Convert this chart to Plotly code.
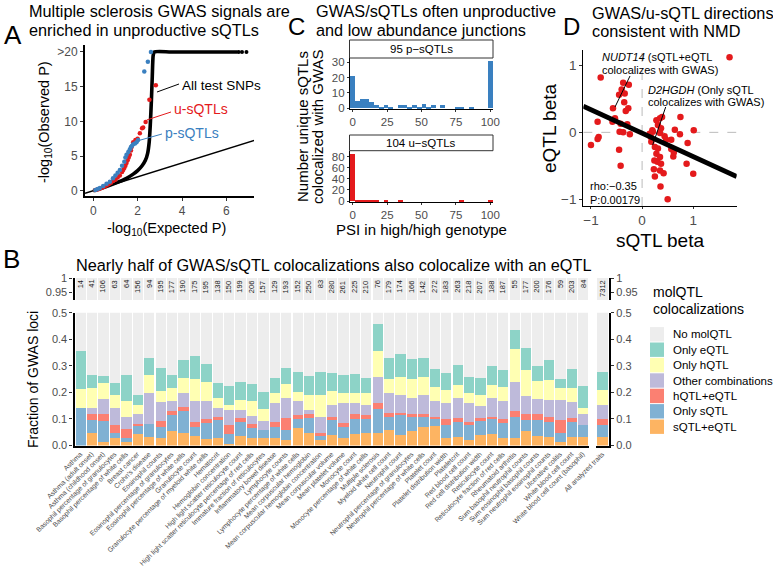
import plotly.graph_objects as go
import numpy as np

W, H = 773, 569
FONT = "Liberation Sans"
GREY = "#4d4d4d"
RED = "#e41a1c"
BLUE = "#3a80c0"

def px(x):
    return x / W

def py(y):
    return 1 - y / H

# ---------------- Panel A data (QQ plot) ----------------
a_diag_x = [-0.37, 7.3]
a_diag_y = [-0.37, 7.3]
a_all_x = [0, 0.5, 1.0, 1.5, 1.8, 2.0, 2.2, 2.35, 2.45, 2.52, 2.57, 2.62, 2.66, 2.7, 2.75, 3.5, 5.0, 6.5]
a_all_y = [0, 0.5, 1.1, 1.8, 2.4, 2.9, 3.6, 4.4, 5.4, 7.0, 9.5, 13, 16.5, 19.5, 20, 20, 20, 20]
a_top_x = [6.55, 6.7, 6.9]
a_top_y = [20, 20, 20]
a_u_x = [0.1, 0.2, 0.3, 0.4, 0.5, 0.6, 0.7, 0.8, 0.9, 1.0, 1.1, 1.2, 1.3, 1.35, 1.4, 1.45, 1.5,
         1.55, 1.6, 1.65, 1.7, 1.73, 1.8, 1.9, 2.0, 2.1, 2.2, 2.25, 2.36, 2.53, 2.82]
a_u_y = [0.1, 0.2, 0.3, 0.45, 0.6, 0.75, 0.95, 1.15, 1.4, 1.6, 1.9, 2.2, 2.7, 3.0, 3.3, 3.6, 4.0,
         4.4, 4.8, 5.2, 5.8, 6.3, 7.0, 7.3, 7.5, 8.3, 9.0, 9.1, 9.9, 13.1, 15.2]
a_p_x = [0.1, 0.2, 0.3, 0.45, 0.6, 0.75, 0.89, 1.0, 1.1, 1.2, 1.3, 1.4, 1.45, 1.5, 1.58, 1.65,
         1.7, 1.75, 1.8, 1.88, 1.95, 2.02, 2.3, 2.46, 2.6]
a_p_y = [0.1, 0.25, 0.4, 0.7, 1.0, 1.3, 1.8, 2.2, 2.6, 3.0, 3.6, 4.2, 4.8, 5.2, 5.6, 6.0,
         6.3, 6.5, 6.7, 6.8, 7.0, 7.3, 17.2, 18.6, 20.0]
a_yticks = [0, 5, 10, 15, 20]
a_yticktext = ["0", "5", "10", "15", ">20"]

# ---------------- Panel C data (histograms, 30 bins over 0-100) ----------------
c_bins = np.linspace(0, 100, 30)
c_p_counts = [21, 5, 6, 6, 4, 2, 1, 2, 1, 0, 2, 2, 1, 2, 1, 3, 1, 2, 0, 2, 0, 0, 1, 1, 0, 1, 0, 0, 0, 31]
c_u_counts = [86, 3, 2, 2, 1, 1, 0, 1, 0, 0, 2, 0, 0, 0, 0, 0, 0, 0, 0, 0, 0, 0, 0, 1, 0, 0, 0, 0, 0, 1]

# ---------------- Panel D data (scatter) ----------------
d_x = [1.71, -0.81, -0.37, -0.26, -0.40, -0.34, -0.45, -0.35, -0.27, -0.32, -0.57, -0.53, -0.58, -0.87,
       -0.42, -0.29, -0.44, -0.37, -0.24, -0.85, -0.87, -1.00, -0.45, -0.42,
       0.21, 0.17, 0.18, 0.28, 0.35, 0.39, 0.31, 0.37, 0.35, 0.44, 0.47, 0.57, 0.64, 0.75, 0.74, 1.01,
       0.89, 0.57, 0.61, 0.62, 0.25, 0.28, 0.24, 0.30, 0.35, 0.37, 0.35, 0.42, 0.23, 0.25, 0.36, 0.87,
       1.00, 0.31, 0.50, 0.20, 0.15]
d_y = [1.12, 0.82, 0.74, 0.71, 0.64, 0.58, 0.56, 0.45, 0.36, 0.32, 0.36, 0.21, 0.16, 0.16,
       0.13, 0.12, 0.01, 0.00, -0.03, -0.07, -0.10, -0.19, -0.26, -0.50,
       0.01, -0.07, -0.14, 0.18, 0.21, 0.23, 0.11, 0.06, -0.01, -0.06, -0.11, -0.11, 0.04, 0.23, -0.03, 0.03,
       -0.16, -0.25, -0.36, -0.30, -0.22, -0.32, -0.42, -0.44, -0.37, -0.47, -0.57, -0.61, -0.55, -0.66,
       -0.81, -0.47, -0.62, -0.24, -1.00, 0.03, -0.02]
d_fit_x = [-1.15, 1.85]
d_fit_y = [0.39, -0.66]

# ---------------- Panel B data (stacked fractions) ----------------
traits = ["Asthma", "Asthma (adult onset)", "Asthma (childhood onset)",
          "Basophil percentage of granulocytes", "Basophil percentage of white cells", "Breast cancer",
          "Crohn's disease", "Eosinophil counts", "Eosinophil percentage of granulocytes",
          "Eosinophil percentage of white cells", "Granulocyte count",
          "Granulocyte percentage of myeloid white cells", "Hematocrit", "Hemoglobin concentration",
          "High light scatter reticulocyte count", "High light scatter reticulocyte percentage of red cells",
          "Immature fraction of reticulocytes", "Inflammatory bowel disease", "Lymphocyte counts",
          "Lymphocyte percentage of white cells", "Mean corpuscular hemoglobin",
          "Mean corpuscular hemoglobin concentration", "Mean corpuscular volume", "Mean platelet volume",
          "Monocyte count", "Monocyte percentage of white cells", "Multiple sclerosis",
          "Myeloid white cell count", "Neutrophil count", "Neutrophil percentage of granulocytes",
          "Neutrophil percentage of white cells", "Platelet count", "Platelet distribution width",
          "Plateletcrit", "Red blood cell count", "Red cell distribution width", "Reticulocyte count",
          "Reticulocyte fraction of red cells", "Rheumatoid arthritis", "Sum basophil neutrophil counts",
          "Sum eosinophil basophil counts", "Sum neutrophil eosinophil counts", "Ulcerative colitis",
          "White blood cell count", "White blood cell count (basophil)"]
trait_n = [14, 41, 106, 63, 64, 156, 94, 195, 177, 190, 175, 195, 138, 150, 199, 206, 157, 129, 193,
           152, 250, 83, 280, 261, 225, 210, 76, 179, 174, 166, 142, 272, 183, 263, 218, 207, 188, 187,
           55, 177, 200, 176, 59, 203, 84]
sqtl_eqtl = [0, .047, .016, .029, .016, .044, .032, .031, .055, .050, .038, .025, .028, .006, .038,
             .029, .029, .029, .023, .067, .050, .023, .042, .029, .045, .050, .050, .060, .042, .054,
             .070, .075, .030, .035, .020, .040, .045, .030, .030, .054, .038, .032, .015, .034, .034]
only_sqtl = [.141, .050, .079, .018, .015, .033, .051, .038, .062, .080, .034, .060, .069, .038, .050,
             .037, .031, .043, .036, .034, .055, .015, .055, .041, .055, .050, .090, .050, .073, .056,
             .040, .025, .050, .055, .060, .055, .055, .055, .080, .045, .061, .057, .033, .055, .046]
hqtl_eqtl = [0, .023, .025, .031, .031, .004, 0, .023, .013, .015, .019, .016, .013, .034, .015,
             .015, 0, .019, .046, .016, .015, .010, .013, .015, .020, .015, .020, .015, .010, .010,
             .010, .010, .020, .015, .010, .010, .010, .015, .020, .019, .019, .019, .051, .015, 0]
other_comb = [0, .023, .057, .063, .045, .039, .117, .072, .038, .055, .077, .067, .033, .055, .030,
              .033, .035, .071, .074, .053, .015, .059, .042, .075, .040, .040, .100, .075, .065, .060,
              .070, .060, .060, .075, .070, .045, .070, .070, .110, .068, .057, .063, .072, .061, .038]
only_hqtl = [.071, .075, .059, .049, .063, .032, .065, .044, .050, .056, .082, .072, .037, .019, .041,
             .054, .044, .038, .052, .032, .055, .086, .056, .040, .040, .045, .096, .050, .070, .070,
             .070, .050, .050, .050, .040, .040, .050, .050, .124, .101, .069, .078, .048, .054, .025]
only_eqtl = [.145, .050, .027, .047, .095, .038, .065, .085, .047, .066, .087, .067, .057, .073, .066,
             .063, .063, .055, .063, .074, .072, .083, .066, .065, .070, .055, .104, .080, .085, .076,
             .070, .070, .065, .075, .060, .065, .070, .065, .071, .080, .056, .074, .034, .072, .082]
all_label = "All analyzed traits"
all_n = [7312]
all_vals = [.034, .046, .021, .051, .057, .069]  # sQTL+eQTL, Only sQTL, hQTL+eQTL, Other, Only hQTL, Only eQTL

cat_names = ["sQTL+eQTL", "Only sQTL", "hQTL+eQTL", "Other combinations", "Only hQTL", "Only eQTL", "No molQTL"]
cat_colors = ["#fdb462", "#80b1d3", "#fb8072", "#bebada", "#ffffb3", "#8dd3c7", "#ededed"]
legend_order = ["No molQTL", "Only eQTL", "Only hQTL", "Other combinations", "hQTL+eQTL", "Only sQTL", "sQTL+eQTL"]

series = [sqtl_eqtl, only_sqtl, hqtl_eqtl, other_comb, only_hqtl, only_eqtl]
no_mol = list(1 - np.sum(np.array(series), axis=0))
series_all = series + [no_mol]
all_series = [[v] for v in all_vals] + [[1 - sum(all_vals)]]

fig = go.Figure()

# ---- Panel A traces
fig.add_trace(go.Scatter(x=a_diag_x, y=a_diag_y, mode="lines", line=dict(color="black", width=1.6),
                         xaxis="x", yaxis="y", hoverinfo="skip"))
fig.add_trace(go.Scatter(x=a_all_x, y=a_all_y, mode="lines", line=dict(color="black", width=3.6, shape="spline", smoothing=0.6),
                         xaxis="x", yaxis="y"))
fig.add_trace(go.Scatter(x=a_top_x, y=a_top_y, mode="markers", marker=dict(color="black", size=4),
                         xaxis="x", yaxis="y"))
fig.add_trace(go.Scatter(x=a_u_x, y=a_u_y, mode="markers", marker=dict(color=RED, size=4.5),
                         xaxis="x", yaxis="y"))
fig.add_trace(go.Scatter(x=a_p_x, y=a_p_y, mode="markers", marker=dict(color=BLUE, size=4.5),
                         xaxis="x", yaxis="y"))

# ---- Panel C traces
bw = 100 / 29
fig.add_trace(go.Bar(x=c_bins, y=c_p_counts, width=bw, marker=dict(color=BLUE, line=dict(width=0)),
                     xaxis="x2", yaxis="y2"))
fig.add_trace(go.Bar(x=c_bins, y=c_u_counts, width=bw, marker=dict(color=RED, line=dict(width=0)),
                     xaxis="x3", yaxis="y3"))

# ---- Panel D traces
fig.add_trace(go.Scatter(x=d_x, y=d_y, mode="markers", marker=dict(color=RED, size=6.5),
                         xaxis="x4", yaxis="y4"))
fig.add_trace(go.Scatter(x=d_fit_x, y=d_fit_y, mode="lines", line=dict(color="black", width=5),
                         xaxis="x4", yaxis="y4"))

# ---- Panel B traces
for ax, ay in (("x5", "y5"), ("x6", "y6")):
    for name, col, vals in zip(cat_names, cat_colors, series_all):
        fig.add_trace(go.Bar(x=traits, y=vals, name=name, width=0.9,
                             marker=dict(color=col, line=dict(width=0)), xaxis=ax, yaxis=ay))
for ax, ay in (("x7", "y7"), ("x8", "y8")):
    for name, col, vals in zip(cat_names, cat_colors, all_series):
        fig.add_trace(go.Bar(x=[all_label], y=vals, name=name, width=0.8,
                             marker=dict(color=col, line=dict(width=0)), xaxis=ax, yaxis=ay))

def tf(size):
    return dict(family=FONT, size=size, color=GREY)

def axis_common(**kw):
    d = dict(showgrid=False, zeroline=False, showline=True, linecolor="black", linewidth=1.2,
             ticks="outside", ticklen=3, tickcolor="#333333", tickfont=tf(11), automargin=False)
    d.update(kw)
    return d

layout = dict(
    width=W, height=H, margin=dict(l=0, r=0, t=0, b=0, pad=0, autoexpand=False), showlegend=False,
    paper_bgcolor="white", plot_bgcolor="white", barmode="stack", bargap=0,
    font=dict(family=FONT, color="black"),
    # A
    xaxis=axis_common(domain=[px(85), px(254)], range=[-0.37, 7.24], tickvals=[0, 2, 4, 6],
                      anchor="y", linewidth=2, tickfont=tf(12)),
    yaxis=axis_common(domain=[py(196), py(45)], range=[-0.75, 21.0], tickvals=a_yticks,
                      ticktext=a_yticktext, anchor="x", linewidth=2, tickfont=tf(12)),
    # C top
    xaxis2=axis_common(domain=[px(350), px(493)], range=[-2, 102], tickvals=[0, 25, 50, 75, 100],
                       anchor="y2", tickfont=tf(11.5), ticklen=2),
    yaxis2=axis_common(domain=[py(109), py(58)], range=[-0.46, 32.8], tickvals=[0, 10, 20, 30], anchor="x2",
                       tickfont=tf(11.5), ticklen=2),
    # C bottom
    xaxis3=axis_common(domain=[px(350), px(493)], range=[-2, 102], tickvals=[0, 25, 50, 75, 100],
                       anchor="y3", tickfont=tf(11.5), ticklen=2),
    yaxis3=axis_common(domain=[py(202), py(150.7)], range=[-1.8, 90.8], tickvals=[0, 20, 40, 60, 80],
                       anchor="x3", tickfont=tf(11.5), ticklen=2),
    # D
    xaxis4=axis_common(domain=[px(583.3), px(736.7)], range=[-1.15, 1.85], tickvals=[-1, 0, 1],
                       ticktext=["\u22121", "0", "1"], anchor="y4", tickfont=tf(13.5), ticklen=2),
    yaxis4=axis_common(domain=[py(206), py(50)], range=[-1.1, 1.23], tickvals=[-1, 0, 1],
                       ticktext=["\u22121", "0", "1"], anchor="x4", tickfont=tf(13.5)),
    # B main
    xaxis5=dict(domain=[px(74.5), px(588.5)], range=[-0.5, 44.5], type="category", anchor="y5",
                showline=True, linecolor="black", linewidth=2.2, ticks="", tickangle=-45, automargin=False,
                tickvals=traits, tickfont=tf(6.8), showgrid=False),
    yaxis5=axis_common(domain=[py(445.5), py(312.7)], range=[0, 0.5],
                       tickvals=[0, 0.1, 0.2, 0.3, 0.4, 0.5],
                       ticktext=["0.0", "0.1", "0.2", "0.3", "0.4", "0.5"], anchor="x5", linewidth=2.2),
    xaxis6=dict(domain=[px(74.5), px(588.5)], range=[-0.5, 44.5], type="category", anchor="y6",
                showline=False, showticklabels=False, ticks="", showgrid=False, automargin=False),
    yaxis6=axis_common(domain=[py(300), py(278)], range=[0.9225, 1.0], tickvals=[0.95, 1],
                       ticktext=["0.95", "1"], anchor="x6", linewidth=2.2),
    xaxis7=dict(domain=[px(595.5), px(609)], range=[-0.5, 0.5], type="category", anchor="y7",
                showline=True, linecolor="black", linewidth=2.2, ticks="", tickangle=-45, automargin=False,
                tickfont=tf(6.8), showgrid=False),
    yaxis7=axis_common(domain=[py(445.5), py(312.7)], range=[0, 0.5], side="right",
                       tickvals=[0, 0.1, 0.2, 0.3, 0.4, 0.5],
                       ticktext=["0.0", "0.1", "0.2", "0.3", "0.4", "0.5"], anchor="x7", linewidth=2.2),
    xaxis8=dict(domain=[px(595.5), px(609)], range=[-0.5, 0.5], type="category", anchor="y8",
                showline=False, showticklabels=False, ticks="", showgrid=False, automargin=False),
    yaxis8=axis_common(domain=[py(300), py(278)], range=[0.9225, 1.0], tickvals=[0.95, 1], side="right",
                       ticktext=["0.95", "1"], anchor="x8", linewidth=2.2),
)
fig.update_layout(**layout)

anns = []
def ann(x, y, text, size, color="black", xanchor="left", yanchor="middle", angle=0, **kw):
    d = dict(x=px(x), y=py(y), xref="paper", yref="paper", text=text, showarrow=False,
             font=dict(family=FONT, size=size, color=color), xanchor=xanchor, yanchor=yanchor,
             textangle=angle)
    d.update(kw)
    anns.append(d)

TITLE = 16.3
# Panel letters
ann(2, 35, "A", 26)
ann(286, 27, "C", 24)
ann(561, 27, "D", 24)
ann(1, 259, "B", 26)

# Titles
ann(27, 11, "Multiple sclerosis GWAS signals are", TITLE)
ann(27, 30, "enriched in unproductive sQTLs", TITLE)
ann(314, 11, "GWAS/sQTLs often unproductive", TITLE)
ann(314, 30, "and low abundance junctions", TITLE)
ann(590, 13, "GWAS/u-sQTL directions", TITLE)
ann(590, 31, "consistent with NMD", TITLE)
ann(333, 265, "Nearly half of GWAS/sQTL colocalizations also colocalize with an eQTL", TITLE, xanchor="center")

# Panel A labels
ann(45, 122, "-log<sub>10</sub>(Observed P)", 14.5, xanchor="center", angle=-90)
ann(166, 229, "-log<sub>10</sub>(Expected P)", 14.5, xanchor="center")
ann(180, 85, "All test SNPs", 13.5)
ann(172, 109, "u-sQTLs", 14, color=RED)
ann(163, 133, "p-sQTLs", 14, color=BLUE)

# Panel C labels
ann(421, 49, "95 p\u2212sQTLs", 11.5, xanchor="center")
ann(421, 143, "104 u\u2212sQTLs", 11.5, xanchor="center")
ann(421, 230, "PSI in high/high genotype", 15, xanchor="center")
ann(302, 127, "Number unique sQTLs", 15, xanchor="center", angle=-90)
ann(317, 127, "colocalized with GWAS", 15, xanchor="center", angle=-90)

# Panel D labels
ann(550, 128, "eQTL beta", 19, xanchor="center", angle=-90)
ann(660, 241, "sQTL beta", 19, xanchor="center")
ann(600, 57, "<i>NUDT14</i> (sQTL+eQTL", 11)
ann(600, 70, "colocalizes with GWAS)", 11)
ann(646, 90, "<i>D2HGDH</i> (Only sQTL", 11)
ann(646, 102, "colocalizes with GWAS)", 11)
ann(588, 186, "rho:\u22120.35", 11)
ann(588, 200, "P:0.00179", 11)

# Panel B labels
ann(33, 380, "Fraction of GWAS loci", 14, xanchor="center", angle=-90)
ann(651, 292, "molQTL", 14)
ann(651, 309, "colocalizations", 14)

for t, n in zip(traits, trait_n):
    anns.append(dict(x=t, y=0.9995, xref="x6", yref="y6", text=str(n), showarrow=False, textangle=-90,
                     font=dict(family=FONT, size=7.5, color="#1a1a1a"), xanchor="center", yanchor="top"))
anns.append(dict(x=all_label, y=0.9995, xref="x8", yref="y8", text=str(all_n[0]), showarrow=False,
                 textangle=-90, font=dict(family=FONT, size=7.5, color="#1a1a1a"),
                 xanchor="center", yanchor="top"))

shapes = []
# legend
leg_y0 = 334.3
for i, name in enumerate(legend_order):
    col = cat_colors[cat_names.index(name)]
    yc = leg_y0 + i * 15.4
    shapes.append(dict(type="rect", xref="paper", yref="paper", x0=px(650), x1=px(664),
                       y0=py(yc + 7.2), y1=py(yc - 7.2), fillcolor=col, line=dict(width=0)))
    ann(671, yc, name, 11.5)

def seg(x0, y0, x1, y1, color="black", width=1):
    shapes.append(dict(type="line", xref="paper", yref="paper", x0=px(x0), y0=py(y0), x1=px(x1), y1=py(y1),
                       line=dict(color=color, width=width)))

seg(157, 92, 179, 84)
seg(146.7, 120, 171, 112, RED)
seg(137, 141, 162, 134, BLUE)
seg(630, 76, 615, 107)
seg(665.7, 107, 652.7, 145)

# strip boxes in C
for y0, y1 in ((40, 58), (135, 150.7)):
    shapes.append(dict(type="rect", xref="paper", yref="paper", x0=px(349.5), x1=px(493),
                       y0=py(y1), y1=py(y0), fillcolor="white", line=dict(color="#333333", width=1)))

# dashed zero lines in D
shapes.append(dict(type="line", xref="x4", yref="y4", x0=0, x1=0, y0=-1.1, y1=1.23, layer="below",
                   line=dict(color="#bbbbbb", width=1, dash="dash")))
shapes.append(dict(type="line", xref="x4", yref="y4", x0=-1.15, x1=1.85, y0=0, y1=0, layer="below",
                   line=dict(color="#bbbbbb", width=1, dash="dash")))

fig.update_layout(annotations=anns, shapes=shapes)
fig.write_html("out.html", config={"displayModeBar": False},
               post_script="document.body.style.margin='0px';")
